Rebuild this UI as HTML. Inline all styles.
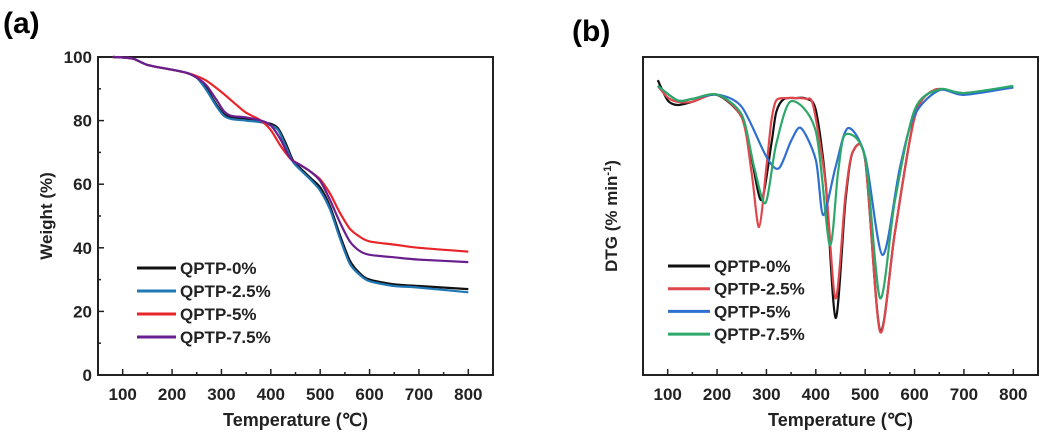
<!DOCTYPE html>
<html><head><meta charset="utf-8"><style>
body{margin:0;background:#fff;}
svg{display:block;font-family:"Liberation Sans",Arial,sans-serif;font-weight:bold;}
</style></head><body>
<svg id="chart" width="1044" height="435" viewBox="0 0 1044 435" xmlns="http://www.w3.org/2000/svg">
<text x="3" y="33" font-size="30">(a)</text>
<text x="572" y="41" font-size="30">(b)</text>
<g id="pa"></g>
<g id="pb"></g>
</svg>
<script>
// TGA data
const tgaNames = ["QPTP-0%","QPTP-2.5%","QPTP-5%","QPTP-7.5%"];
const tgaColors = ["#111111","#1f77b4","#e8262a","#6a1f8f"];
const tgaT0 = [80,120,150,200,230,250,270,290,305,320,350,380,400,415,430,445,460,480,500,520,540,560,580,600,650,700,800];
const tgaW0 = [100,99.5,97.5,96,95,93.5,90,85,82,81,80.5,79.5,79,77.5,73,67.5,65,62,59,53,44,36,32,30,28.5,28,27];
const tgaW1 = [100,99.5,97.5,96,95,93.5,89.5,84.5,81.5,80.5,80,79.5,78.5,77,72,67,64.5,61.5,58,52,43,35,31.5,29.5,28,27.5,26];
const tgaT2 = [80,120,150,200,230,250,270,300,330,350,380,400,420,440,460,480,500,520,540,560,580,600,650,700,800];
const tgaW2 = [100,99.5,97.5,96,95,94,92.5,89,85,82.5,80,77,72,68,66,64,61.5,57,51,46,43.5,42,41,40,38.8];
const tgaT3 = [80,120,150,200,230,250,270,290,305,320,350,380,400,420,440,460,480,500,520,540,560,580,600,650,700,800];
const tgaW3 = [100,99.5,97.5,96,95,93.5,91,86.5,83,81.5,81,80,78.5,74,68,66,64,61,55,48,42,39,37.8,37,36.3,35.5];
// DTG data (arbitrary units)
const dtgNames = ["QPTP-0%","QPTP-2.5%","QPTP-5%","QPTP-7.5%"];
const dtgColors = ["#111111","#e0474c","#2f6fd0","#2ea86a"];
const dtgT0 = [80,100,120,150,200,250,270,290,310,320,335,360,380,400,420,440,460,475,500,530,560,600,640,700,800];
const dtgV0 = [2,-5,-6.6,-5.5,-3.1,-10.8,-25,-39.5,-20,-9,-4.6,-4.2,-4.4,-8.3,-33.6,-80.3,-40,-22.8,-25.6,-84.5,-50.9,-10.8,-1.4,-2.5,-0.5];
const dtgT1 = [80,100,120,150,200,250,270,285,300,310,320,340,360,380,395,420,440,460,475,500,530,560,600,640,700,800];
const dtgV1 = [0,-4,-5.5,-5.5,-3,-11,-30,-48.8,-28,-12,-5,-4.2,-4.2,-4.5,-7,-34,-73.5,-38,-22.8,-25.6,-85,-51,-11,-1.4,-2.5,-0.5];
const dtgT2 = [80,120,150,200,250,300,325,350,370,400,415,440,465,500,535,570,600,650,700,800];
const dtgV2 = [0,-5,-4.5,-3,-7.3,-24.5,-28.5,-19,-14.6,-25.6,-44.7,-28,-14.6,-24.5,-58.5,-28.5,-10,-1.5,-3.1,-0.5];
const dtgT3 = [80,120,150,200,250,275,298,320,350,400,428,445,460,500,530,560,600,650,700,800];
const dtgV3 = [0,-5,-4.5,-3,-10,-28,-40.5,-20,-5.3,-15.7,-55,-30,-16.8,-25,-73.4,-40,-8.3,-1.2,-2.5,0];
const xTicks = [100,200,300,400,500,600,700,800];
const yTicksA = [0,20,40,60,80,100];

const NS="http://www.w3.org/2000/svg";
function mk(tag,attrs,parent){const e=document.createElementNS(NS,tag);for(const k in attrs)e.setAttribute(k,attrs[k]);parent.appendChild(e);return e;}
function smooth(pts){const k=7;let d="M"+pts[0][0]+","+pts[0][1];for(let i=0;i<pts.length-1;i++){const p0=pts[Math.max(0,i-1)],p1=pts[i],p2=pts[i+1],p3=pts[Math.min(pts.length-1,i+2)];const c1=[p1[0]+(p2[0]-p0[0])/k,p1[1]+(p2[1]-p0[1])/k],c2=[p2[0]-(p3[0]-p1[0])/k,p2[1]-(p3[1]-p1[1])/k];d+=" C"+c1[0].toFixed(1)+","+c1[1].toFixed(1)+" "+c2[0].toFixed(1)+","+c2[1].toFixed(1)+" "+p2[0].toFixed(1)+","+p2[1].toFixed(1);}return d;}

function panel(g,L,R,T,B,ymin,ymax,yTicks,ytitle,ytx,series,legX,legY0,legDy,legLen){
  const xs=t=>L+(t-50)/800*(R-L);
  const ys=v=>B-(v-ymin)/(ymax-ymin)*(B-T);
  const frame=mk("rect",{x:L,y:T,width:R-L,height:B-T,fill:"none",stroke:"#222","stroke-width":2},g);
  
  
  for(let t=100;t<=800;t+=50){
    const major=t%100===0;
    const tk=mk("line",{x1:xs(t),x2:xs(t),y1:B,y2:B-(major?6:3),stroke:"#222","stroke-width":1.5},g);
    
    
  }
  xTicks.forEach(t=>{
    const tx=mk("text",{x:xs(t),y:B+25,"font-size":17,"text-anchor":"middle",fill:"#222"},g);tx.textContent=t;
    
    
  });
  if(yTicks){
    for(let v=0;v<=100;v+=10){
      const tk=mk("line",{x1:L,x2:L+(v%20===0?6:3),y1:ys(v),y2:ys(v),stroke:"#222","stroke-width":1.5},g);
      
      
    }
    yTicks.forEach(v=>{
      const tx=mk("text",{x:L-6,y:ys(v)+6,"font-size":17,"text-anchor":"end",fill:"#222"},g);tx.textContent=v;
      
      
    });
  }
  const xt=mk("text",{x:(L+R)/2,y:426,"font-size":18,"text-anchor":"middle",fill:"#222"},g);xt.textContent="Temperature (℃)";
  
  
  const yt=mk("text",{x:0,y:0,"font-size":17,"text-anchor":"middle",fill:"#222",transform:`translate(${ytx},${(T+B)/2}) rotate(-90)`},g);
  yt.innerHTML=ytitle;
  
  
  series.forEach((s,i)=>{
    const pts=s.t.map((t,j)=>[xs(t),ys(s.v[j])]);
    const p=mk("path",{d:smooth(pts),fill:"none",stroke:s.c,"stroke-width":2.2},g);
    
    
    const ly=legY0+i*legDy;
    const ll=mk("line",{x1:legX,x2:legX+legLen,y1:ly,y2:ly,stroke:s.c,"stroke-width":3},g);
    
    
    const lt=mk("text",{x:legX+legLen+4,y:ly+6,"font-size":17,fill:"#222"},g);lt.textContent=s.n;
    
    
  });
}
panel(document.getElementById("pa"),98,493,57,375,0,100,yTicksA,"Weight (%)",52,[
 {t:tgaT0,v:tgaW0,c:tgaColors[0],n:tgaNames[0]},
 {t:tgaT0,v:tgaW1,c:tgaColors[1],n:tgaNames[1]},
 {t:tgaT2,v:tgaW2,c:tgaColors[2],n:tgaNames[2]},
 {t:tgaT3,v:tgaW3,c:tgaColors[3],n:tgaNames[3]}],137,268,23,39);
panel(document.getElementById("pb"),643,1038,57,375,-100,10,null,'DTG (% min<tspan font-size="11" dy="-6">-1</tspan><tspan dy="6">)</tspan>',617,[
 {t:dtgT0,v:dtgV0,c:dtgColors[0],n:dtgNames[0]},
 {t:dtgT1,v:dtgV1,c:dtgColors[1],n:dtgNames[1]},
 {t:dtgT2,v:dtgV2,c:dtgColors[2],n:dtgNames[2]},
 {t:dtgT3,v:dtgV3,c:dtgColors[3],n:dtgNames[3]}],668,266,22.7,42);
</script>
</body></html>
